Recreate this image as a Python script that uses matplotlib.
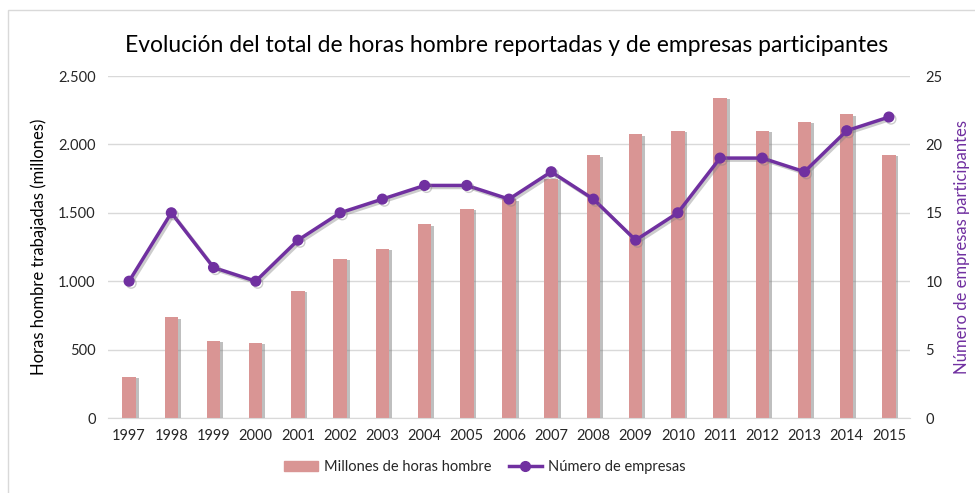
import matplotlib.pyplot as plt
import matplotlib.patheffects as pe
from matplotlib.patches import Rectangle
from matplotlib.lines import Line2D
from matplotlib.ticker import FuncFormatter

plt.rcParams['font.family'] = ['Lato', 'DejaVu Sans']

years = ['1997', '1998', '1999', '2000', '2001', '2002', '2003', '2004', '2005', '2006',
         '2007', '2008', '2009', '2010', '2011', '2012', '2013', '2014', '2015']
horas = [300, 735, 565, 550, 930, 1165, 1235, 1415, 1530, 1600,
         1750, 1920, 2075, 2100, 2340, 2100, 2165, 2220, 1925]
empresas = [10, 15, 11, 10, 13, 15, 16, 17, 17, 16,
            18, 16, 13, 15, 19, 19, 18, 21, 22]

BAR_COLOR = '#D99594'
LINE_COLOR = '#7030A0'
GRID_COLOR = '#D9D9D9'
TEXT_COLOR = '#262626'

fig = plt.figure(figsize=(9.75, 4.93), dpi=100)
ax = fig.add_axes([108 / 975, 1 - 418 / 493, 802 / 975, 342 / 493])
ax2 = ax.twinx()

# light frame round the chart (only left/top visible in reference)
fig.patches.append(Rectangle((8 / 975, -0.05), 1.1, (493 - 10) / 493 + 0.05,
                             transform=fig.transFigure, fill=False,
                             edgecolor='#D9D9D9', linewidth=1.0))

x = list(range(len(years)))
shadow = [pe.SimplePatchShadow(offset=(2, -1), shadow_rgbFace='#808080', alpha=0.5), pe.Normal()]
bars = ax.bar(x, horas, width=0.32, color=BAR_COLOR, zorder=2)
for b in bars:
    b.set_path_effects(shadow)

lshadow = [pe.SimpleLineShadow(offset=(1.5, -1.5), shadow_color='#808080', alpha=0.4), pe.Normal()]
ax2.plot(x, empresas, color=LINE_COLOR, linewidth=2.5, marker='o', markersize=7,
         zorder=3, path_effects=lshadow)

ax.set_xlim(-0.5, len(years) - 0.5)
ax.set_ylim(0, 2500)
ax.set_yticks([0, 500, 1000, 1500, 2000, 2500])
ax.yaxis.set_major_formatter(FuncFormatter(lambda v, p: f'{int(v):,}'.replace(',', '.')))
ax2.set_ylim(0, 25)
ax2.set_yticks([0, 5, 10, 15, 20, 25])

ax.set_xticks(x)
ax.set_xticklabels(years)
ax.grid(axis='y', color=GRID_COLOR, linewidth=1, zorder=0)
ax.set_axisbelow(True)

for a in (ax, ax2):
    for s in a.spines.values():
        s.set_visible(False)
    a.tick_params(length=0, labelsize=10.5, colors=TEXT_COLOR)
ax.spines['bottom'].set_visible(True)
ax.spines['bottom'].set_color(GRID_COLOR)
ax.tick_params(axis='y', pad=9)
ax.tick_params(axis='x', pad=8)
ax2.tick_params(axis='y', pad=11)

ax.set_ylabel('Horas hombre trabajadas (millones)', fontsize=12, color='black', labelpad=8)
ax2.set_ylabel('Número de empresas participantes', fontsize=12, color=LINE_COLOR, labelpad=8)

fig.text(507 / 975, 1 - 45 / 493, 'Evolución del total de horas hombre reportadas y de empresas participantes',
         ha='center', va='center', fontsize=16.5, color='black')

handles = [Rectangle((0, 0), 1, 1, color=BAR_COLOR),
           Line2D([0], [0], color=LINE_COLOR, linewidth=2.5, marker='o', markersize=7)]
fig.legend(handles, ['Millones de horas hombre', 'Número de empresas'],
           loc='center', bbox_to_anchor=(485 / 975, 1 - 467 / 493), ncol=2, frameon=False,
           fontsize=10.5, handlelength=2.3, handletextpad=0.4, columnspacing=1.2,
           labelcolor=TEXT_COLOR)

fig.savefig('out.png', dpi=100)
